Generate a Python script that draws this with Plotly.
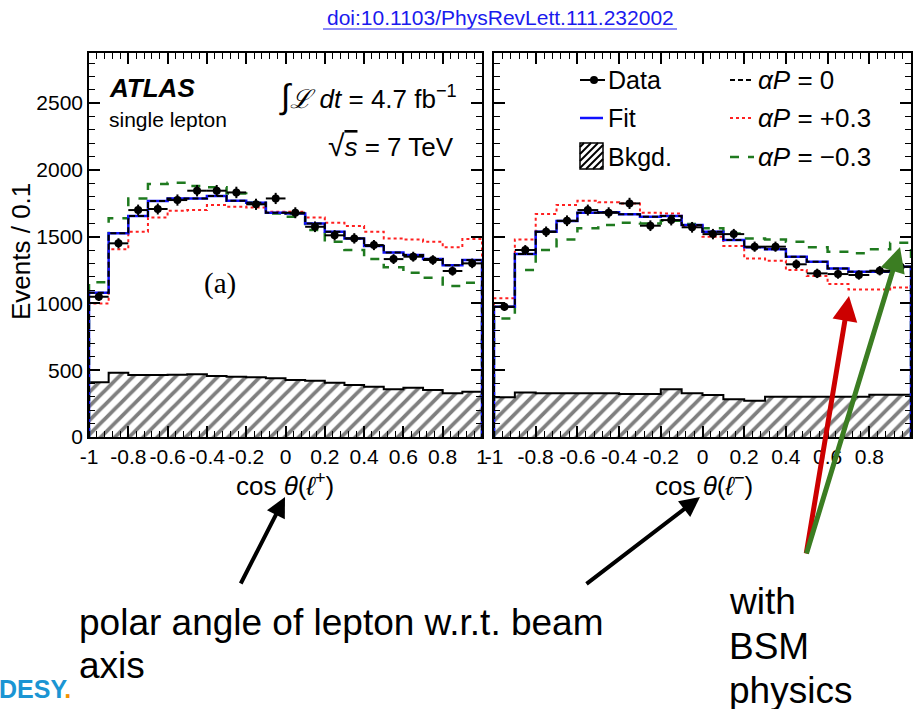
import plotly.graph_objects as go

# ---------------- data ----------------
bin_edges = [-1.0, -0.9, -0.8, -0.7, -0.6, -0.5, -0.4, -0.3, -0.2, -0.1, 0.0,
             0.1, 0.2, 0.3, 0.4, 0.5, 0.6, 0.7, 0.8, 0.9, 1.0]

x_tick_vals = [-1, -0.8, -0.6, -0.4, -0.2, 0, 0.2, 0.4, 0.6, 0.8, 1]
x_tick_labels = ["-1", "-0.8", "-0.6", "-0.4", "-0.2", "0", "0.2", "0.4", "0.6", "0.8", "1"]
y_tick_vals = [0, 500, 1000, 1500, 2000, 2500]
y_tick_labels = ["0", "500", "1000", "1500", "2000", "2500"]

# cos theta(l+)
lp_data = [1050, 1450, 1699, 1707, 1774, 1844, 1844, 1831, 1742, 1786,
           1679, 1574, 1510, 1487, 1437, 1332, 1350, 1325, 1243, 1300]
lp_err = [32, 38, 41, 41, 42, 43, 43, 43, 42, 42,
          41, 40, 39, 39, 38, 37, 37, 36, 35, 36]
lp_fit = [1080, 1525, 1654, 1766, 1786, 1786, 1804, 1769, 1754, 1679,
          1674, 1599, 1537, 1487, 1430, 1382, 1362, 1332, 1285, 1325]
lp_ap0 = [1080, 1525, 1654, 1766, 1786, 1786, 1804, 1769, 1754, 1679,
          1674, 1599, 1537, 1487, 1430, 1382, 1362, 1332, 1285, 1325]
lp_plus = [1000, 1405, 1537, 1644, 1694, 1699, 1737, 1724, 1719, 1687,
           1687, 1644, 1604, 1579, 1537, 1487, 1479, 1462, 1420, 1482]
lp_minus = [1158, 1637, 1786, 1894, 1904, 1879, 1869, 1824, 1754, 1674,
            1649, 1549, 1462, 1400, 1332, 1270, 1230, 1192, 1130, 1155]
lp_bkg = [409, 481, 464, 464, 466, 469, 457, 451, 447, 439,
          427, 422, 407, 389, 377, 357, 369, 352, 327, 339]

# cos theta(l-)
lm_data = [975, 1400, 1537, 1619, 1699, 1679, 1749, 1582, 1624, 1570,
           1519, 1519, 1425, 1425, 1293, 1225, 1220, 1213, 1245, 1275]
lm_err = [31, 37, 39, 40, 41, 41, 42, 40, 40, 40,
          39, 39, 38, 38, 36, 35, 35, 35, 35, 36]
lm_fit = [975, 1370, 1537, 1617, 1679, 1682, 1667, 1649, 1654, 1587,
          1537, 1475, 1420, 1405, 1350, 1312, 1262, 1237, 1237, 1275]
lm_ap0 = [975, 1370, 1537, 1617, 1679, 1682, 1667, 1649, 1654, 1587,
          1537, 1475, 1420, 1405, 1350, 1312, 1262, 1237, 1237, 1275]
lm_plus = [1038, 1479, 1669, 1737, 1769, 1757, 1749, 1679, 1674, 1579,
           1499, 1430, 1337, 1320, 1250, 1205, 1145, 1105, 1105, 1120]
lm_minus = [888, 1250, 1400, 1479, 1562, 1587, 1604, 1599, 1619, 1594,
            1562, 1524, 1487, 1479, 1462, 1420, 1387, 1375, 1405, 1454]
lm_bkg = [297, 334, 327, 327, 327, 327, 322, 322, 357, 327,
          314, 282, 272, 302, 302, 302, 302, 302, 317, 317]

# ---------------- helpers ----------------
W, H = 913, 709
FONT = "Liberation Sans, Arial, sans-serif"
centers = [(bin_edges[i] + bin_edges[i + 1]) / 2 for i in range(len(bin_edges) - 1)]


def P(px, py):
    return px / W, 1 - py / H


def step_xy(vals):
    xs = [bin_edges[0]] + list(bin_edges) + [bin_edges[-1]]
    ys = [0] + list(vals) + [vals[-1], 0]
    return xs, ys


fig = go.Figure()


def add_panel(xa, ya, bkg, minus, plus, ap0, fit, data, err):
    fig.add_trace(go.Bar(
        x=centers, y=bkg, width=0.1, xaxis=xa, yaxis=ya,
        marker=dict(color="white", line=dict(width=0),
                    pattern=dict(shape="/", fgcolor="black", bgcolor="white",
                                 size=10, solidity=0.38)),
        showlegend=False, hoverinfo="skip"))
    xs, ys = step_xy(bkg)
    fig.add_trace(go.Scatter(x=xs, y=ys, mode="lines", line_shape="hv", xaxis=xa, yaxis=ya,
                             line=dict(color="black", width=2), showlegend=False, hoverinfo="skip"))
    xs, ys = step_xy(minus)
    fig.add_trace(go.Scatter(x=xs, y=ys, mode="lines", line_shape="hv", xaxis=xa, yaxis=ya,
                             line=dict(color="#1f7a1f", width=2.5, dash="dash"), showlegend=False))
    xs, ys = step_xy(plus)
    fig.add_trace(go.Scatter(x=xs, y=ys, mode="lines", line_shape="hv", xaxis=xa, yaxis=ya,
                             line=dict(color="#ff2020", width=2, dash="dot"), showlegend=False))
    xs, ys = step_xy(fit)
    fig.add_trace(go.Scatter(x=xs, y=ys, mode="lines", line_shape="hv", xaxis=xa, yaxis=ya,
                             line=dict(color="#1010ff", width=2.5), showlegend=False))
    xs, ys = step_xy(ap0)
    fig.add_trace(go.Scatter(x=xs, y=ys, mode="lines", line_shape="hv", xaxis=xa, yaxis=ya,
                             line=dict(color="black", width=2, dash="6px,3px"), showlegend=False))
    fig.add_trace(go.Scatter(
        x=centers, y=data, mode="markers", xaxis=xa, yaxis=ya,
        marker=dict(color="black", size=8),
        error_y=dict(type="data", array=err, color="black", thickness=2, width=0),
        error_x=dict(type="constant", value=0.05, color="black", thickness=2, width=0),
        showlegend=False))


add_panel("x", "y", lp_bkg, lp_minus, lp_plus, lp_ap0, lp_fit, lp_data, lp_err)
add_panel("x2", "y2", lm_bkg, lm_minus, lm_plus, lm_ap0, lm_fit, lm_data, lm_err)

ax_common = dict(showline=True, linecolor="black", linewidth=1.5, mirror="ticks",
                 ticks="inside", tickcolor="black", tickwidth=1.5, ticklen=11,
                 showgrid=False, zeroline=False, fixedrange=True, automargin=False)
xcommon = dict(ax_common, range=[-1, 1], tickmode="array", tickvals=x_tick_vals,
               ticktext=x_tick_labels, tickfont=dict(family=FONT, size=21, color="black"),
               minor=dict(ticks="inside", ticklen=6, tickwidth=1, tickcolor="black",
                          tick0=-1, dtick=0.04, showgrid=False))
ycommon = dict(ax_common, range=[0, 2875], tickmode="array", tickvals=y_tick_vals,
               ticktext=y_tick_labels, tickfont=dict(family=FONT, size=21, color="black"),
               minor=dict(ticks="inside", ticklen=6, tickwidth=1, tickcolor="black",
                          tick0=0, dtick=100, showgrid=False))

yd = [1 - 437 / H, 1 - 53 / H]
fig.update_layout(
    width=W, height=H, margin=dict(l=0, r=0, t=0, b=0, autoexpand=False),
    paper_bgcolor="white", plot_bgcolor="white",
    bargap=0, barmode="overlay", showlegend=False,
    xaxis=dict(xcommon, domain=[89 / W, 482 / W], anchor="y"),
    yaxis=dict(ycommon, domain=yd, anchor="x"),
    xaxis2=dict(xcommon, domain=[494 / W, 911 / W], anchor="y2"),
    yaxis2=dict(ycommon, domain=yd, anchor="x2", showticklabels=False),
)

shapes = []
annos = []


def line(x0, y0, x1, y1, color="black", width=2, dash="solid"):
    a, b = P(x0, y0)
    c, d = P(x1, y1)
    shapes.append(dict(type="line", xref="paper", yref="paper", x0=a, y0=b, x1=c, y1=d,
                       line=dict(color=color, width=width, dash=dash)))


def text(px, py, s, size=20, xanchor="left", family=FONT, color="black", yanchor="middle", angle=0):
    a, b = P(px, py)
    annos.append(dict(x=a, y=b, xref="paper", yref="paper", text=s, showarrow=False,
                      xanchor=xanchor, yanchor=yanchor, textangle=angle,
                      font=dict(family=family, size=size, color=color)))


def arrow(hx, hy, tx, ty, color, width):
    a, b = P(hx, hy)
    annos.append(dict(x=a, y=b, xref="paper", yref="paper", text="", showarrow=True,
                      ax=tx - hx, ay=ty - hy, arrowcolor=color, arrowwidth=width,
                      arrowhead=2, arrowsize=1.0, standoff=0))


# legend (drawn manually, ROOT style)
line(580, 80, 605, 80, "black", 2)
cx, cy = P(594, 80)
shapes.append(dict(type="circle", xref="paper", yref="paper",
                   x0=cx - 4 / W, x1=cx + 4 / W, y0=cy - 4 / H, y1=cy + 4 / H,
                   fillcolor="black", line=dict(color="black", width=0)))
line(580, 118, 603, 118, "#1010ff", 2.5)
bx0, by0, bx1, by1 = 580, 143, 603, 169
a0, b0 = P(bx0, by1)
a1, b1 = P(bx1, by0)
shapes.append(dict(type="rect", xref="paper", yref="paper", x0=a0, y0=b0, x1=a1, y1=b1,
                   line=dict(color="black", width=1.5), fillcolor="white"))
hh = by1 - by0
for d in range(-22, 24, 7):
    xs0, ys0 = bx0 + d, by1
    xs1, ys1 = bx0 + d + hh, by0
    if xs0 < bx0:
        ys0 = by1 - (bx0 - xs0)
        xs0 = bx0
    if xs1 > bx1:
        ys1 = by0 + (xs1 - bx1)
        xs1 = bx1
    if xs1 > xs0:
        line(xs0, ys0, xs1, ys1, "black", 2)

line(730, 80, 754, 80, "black", 2, "5px,3px")
line(730, 118, 754, 118, "#ff2020", 2, "dot")
line(730, 157, 754, 157, "#1f7a1f", 2.5, "dash")

text(606, 80, "Data", 25)
text(606, 118, "Fit", 25)
text(606, 157, "Bkgd.", 25)
text(756, 80, "<i>αP</i> = 0", 26)
text(756, 118, "<i>αP</i> = +0.3", 26)
text(756, 157, "<i>αP</i> = −0.3", 26)

# panel texts
text(107, 88, "<b><i>ATLAS</i></b>", 26)
text(107, 120, "single lepton", 21)
text(459, 96, "<span style='font-size:34px'>∫</span><i>ℒ</i> <i>dt</i> = 4.7 fb<sup>−1</sup>", 26, xanchor="right")
text(456, 145, "<span style='font-size:30px'>√</span><span style='text-decoration:overline'><i>s</i></span> = 7 TeV", 26, xanchor="right")
text(220, 283, "(a)", 29, xanchor="center", family="Liberation Serif, Times New Roman, serif")

# axis titles
text(285, 484, "cos <i>θ</i>(<i>ℓ</i><sup>+</sup>)", 26, xanchor="center")
text(704, 484, "cos <i>θ</i>(<i>ℓ</i><sup>−</sup>)", 26, xanchor="center")
text(21, 252, "Events / 0.1", 26, xanchor="center", angle=-90)

# slide decorations
text(500, 18, "doi:10.1103/PhysRevLett.111.232002", 21, xanchor="center", color="#1a1aee")
line(323, 29, 677, 29, "#1a1aee", 1)
text(77, 622, "polar angle of lepton w.r.t. beam", 37)
text(77, 665, "axis", 37)
text(727, 601, "with", 37)
text(727, 646, "BSM", 37)
text(727, 690, "physics", 37)
text(-3, 689, "<b>DESY<span style='color:#f39200'>.</span></b>", 25, color="#1b95d3")

arrow(285, 497, 240, 585, "black", 4)
arrow(700, 497, 585, 585, "black", 4)
arrow(849, 296, 806, 555, "#cc0000", 5)
arrow(900, 247, 806, 555, "#3b7d22", 5)

fig.update_layout(shapes=shapes, annotations=annos)
fig.write_html(
    "out.html",
    config={"displayModeBar": False},
    post_script="document.body.style.margin='0';document.body.style.padding='0';"
                "document.body.style.overflow='hidden';",
)
